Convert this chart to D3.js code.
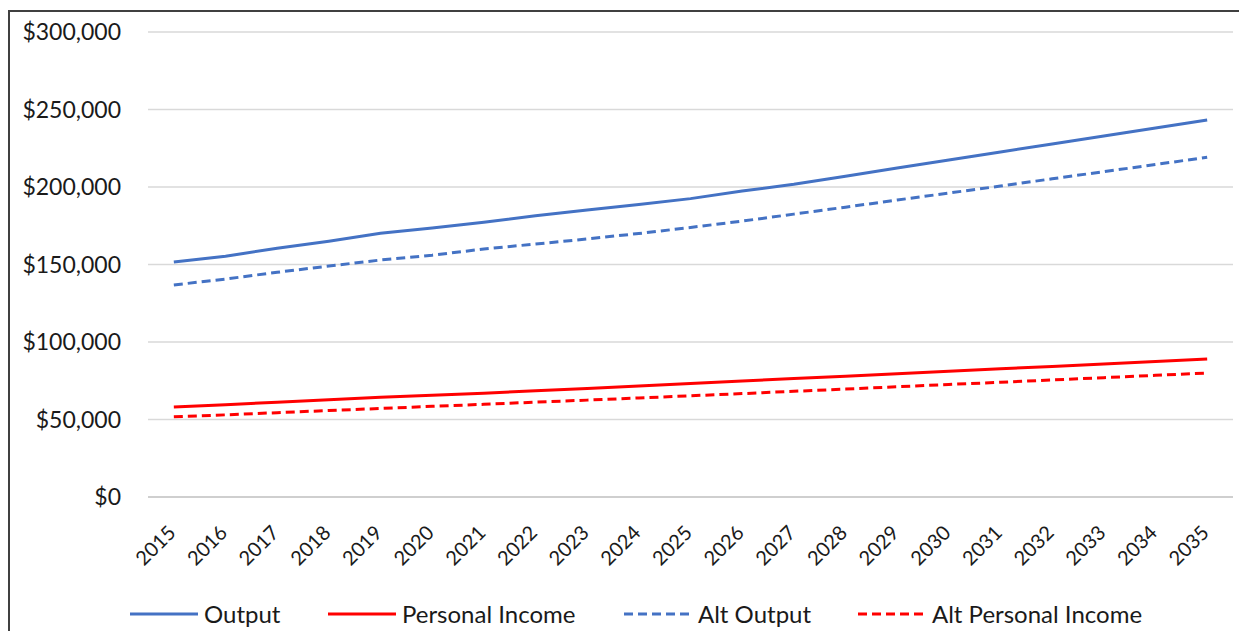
<!DOCTYPE html>
<html>
<head>
<meta charset="utf-8">
<script src="https://cdn.jsdelivr.net/npm/d3@7"></script>
<style>
  html, body { margin: 0; padding: 0; background: #fff; }
  svg { display: block; }
  text { font-family: Lato, "Open Sans", sans-serif; fill: #1a1a1a; }
</style>
</head>
<body>
<svg id="chart" width="1239" height="631"></svg>
<script>
const years = ["2015","2016","2017","2018","2019","2020","2021","2022","2023","2024","2025",
               "2026","2027","2028","2029","2030","2031","2032","2033","2034","2035"];
const output = [151600,155300,160500,165000,170200,173500,177300,181400,185200,188700,192500,
                197400,201800,207000,212200,217400,222600,227700,232900,238000,243200];
const personalIncome = [58000,59500,61200,62800,64300,65600,67000,68500,70000,71600,73200,
                        74800,76400,77900,79500,81100,82700,84200,85800,87400,89000];
const altOutput = [136800,140600,145000,149000,152900,156000,160000,163200,166500,170000,173900,
                   178000,182500,187000,191600,196100,200600,205300,209900,214500,219200];
const altPersonalIncome = [51800,53000,54400,55800,57100,58500,59800,61200,62500,63900,65300,
                           66700,68200,69600,71100,72600,74000,75500,77000,78500,80000];
const yTicks = [0,50000,100000,150000,200000,250000,300000];

const seriesNames = ["Output","Personal Income","Alt Output","Alt Personal Income"];
const seriesValues = [output, personalIncome, altOutput, altPersonalIncome];
const seriesColors = ["#4472C4","#FF0000","#4472C4","#FF0000"];
const seriesDashed = [false,false,true,true];

(function () {
const svg = d3.select("#chart");
const plotLeft = 148, plotRight = 1233, plotTop = 32, plotBottom = 497;

// frame
svg.append("rect").attr("x", 9).attr("y", 11).attr("width", 1260).attr("height", 640)
  .attr("fill", "none").attr("stroke", "#404040").attr("stroke-width", 2);

const x = d3.scaleBand().domain(years).range([plotLeft, plotRight]);
const y = d3.scaleLinear().domain([0, 300000]).range([plotBottom, plotTop]);

// gridlines
svg.append("g").selectAll("line").data(yTicks).join("line")
  .attr("x1", plotLeft).attr("x2", plotRight)
  .attr("y1", d => y(d)).attr("y2", d => y(d))
  .attr("stroke", d => d === 0 ? "#bfbfbf" : "#d9d9d9")
  .attr("stroke-width", 1.5);

// y labels
const fmt = d => "$" + d3.format(",")(d);
svg.append("g").selectAll("text").data(yTicks).join("text")
  .attr("x", 121).attr("y", d => y(d)).attr("dy", "0.36em")
  .attr("text-anchor", "end").style("font-size", "23px")
  .text(fmt);

// x labels
svg.append("g").selectAll("text").data(years).join("text")
  .attr("text-anchor", "end")
  .attr("transform", d => `translate(${x(d) + x.bandwidth()/2 + 3},${plotBottom + 37}) rotate(-45)`)
  .style("font-size", "20px")
  .text(d => d);

// lines
const line = d3.line()
  .x((d, i) => x(years[i]) + x.bandwidth()/2)
  .y(d => y(d));

seriesValues.forEach((vals, k) => {
  svg.append("path").datum(vals)
    .attr("d", line)
    .attr("fill", "none")
    .attr("stroke", seriesColors[k])
    .attr("stroke-width", 3)
    .attr("stroke-dasharray", seriesDashed[k] ? "9,5" : null);
});

// legend
const legendX = [130, 328, 624, 858];
const lg = svg.append("g");
seriesNames.forEach((name, k) => {
  const g = lg.append("g").attr("transform", `translate(${legendX[k]},614)`);
  g.append("line").attr("x1", 0).attr("x2", 68).attr("y1", 0).attr("y2", 0)
    .attr("stroke", seriesColors[k]).attr("stroke-width", 3)
    .attr("stroke-dasharray", seriesDashed[k] ? "9,5" : null);
  g.append("text").attr("x", 74).attr("y", 0).attr("dy", "0.36em")
    .style("font-size", "24px").text(name);
});
})();
</script>
</body>
</html>
